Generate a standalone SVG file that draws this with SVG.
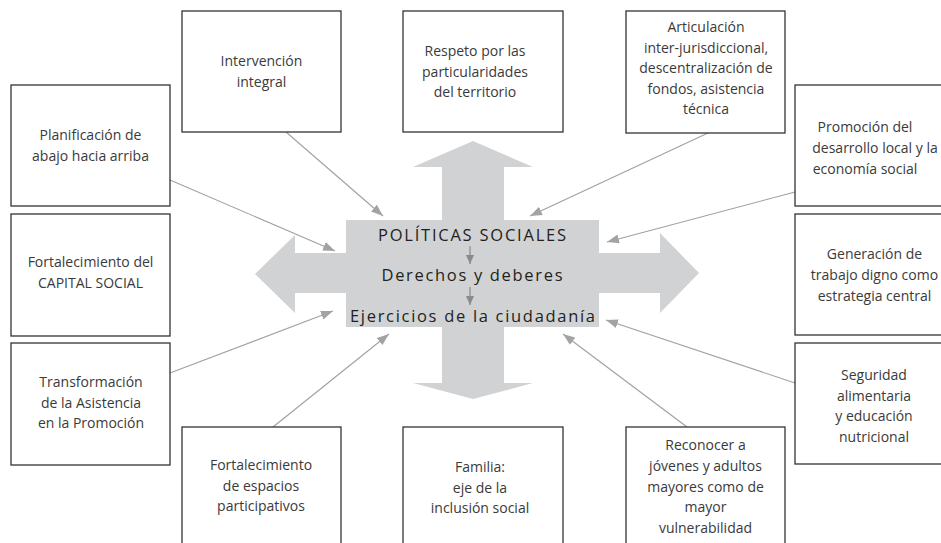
<svg xmlns="http://www.w3.org/2000/svg" width="941" height="543" viewBox="0 0 941 543">
<style>
.box rect{fill:#fff;stroke:#333;stroke-width:1.3}
.box text{font-family:"Open Sans","Liberation Sans",sans-serif;font-size:14px;fill:#3a3a3a;text-anchor:middle}
.cross{fill:#d1d2d4}
.ctext{font-family:"Open Sans","Liberation Sans",sans-serif;font-size:16.5px;font-weight:500;fill:#231f20;text-anchor:middle}
.conn line{stroke:#a0a0a0;stroke-width:1.1;fill:none}
.inner line{stroke:#8a8a8a;stroke-width:1.2}
</style>
<defs>
<marker id="ah" markerUnits="userSpaceOnUse" markerWidth="13" markerHeight="9" refX="12" refY="4.5" orient="auto">
<path d="M0,0 L12,4.5 L0,9 z" fill="#a3a3a3"/>
</marker>
<marker id="ah2" markerUnits="userSpaceOnUse" markerWidth="9" markerHeight="8" refX="9" refY="4" orient="auto">
<path d="M0,0 L9,4 L0,8 z" fill="#8a8a8a"/>
</marker>
</defs>
<rect width="941" height="543" fill="#fff"/>

<g id="center">
<polygon class="cross" points="473,141 533,167 504,167 504,220 599,220 599,253 660,253 660,233 699,273 660,313 660,293 599,293 599,327 504,327 504,383 533,383 473,399 413,383 442,383 442,327 346,327 346,293 295,293 295,313 255,274 295,235 295,253 346,253 346,220 442,220 442,167 413,167"/>
<text class="ctext" x="472" y="241" textLength="188" lengthAdjust="spacing">POLÍTICAS SOCIALES</text>
<text class="ctext" x="472" y="281" textLength="181" lengthAdjust="spacing">Derechos y deberes</text>
<text class="ctext" x="472.5" y="322" textLength="245" lengthAdjust="spacing">Ejercicios de la ciudadanía</text>
<g class="inner">
<line x1="470" y1="246" x2="470" y2="264" marker-end="url(#ah2)"/>
<line x1="470" y1="287" x2="470" y2="305" marker-end="url(#ah2)"/>
</g>
</g>

<g id="connectors" class="conn">
<line x1="286" y1="132" x2="383" y2="216" marker-end="url(#ah)"/>
<line x1="170" y1="180" x2="335" y2="251" marker-end="url(#ah)"/>
<line x1="708" y1="133" x2="530" y2="216" marker-end="url(#ah)"/>
<line x1="795" y1="192" x2="607" y2="242" marker-end="url(#ah)"/>
<line x1="170" y1="373" x2="333" y2="311" marker-end="url(#ah)"/>
<line x1="273" y1="427" x2="389" y2="334" marker-end="url(#ah)"/>
<line x1="795" y1="383" x2="606" y2="320" marker-end="url(#ah)"/>
<line x1="687" y1="427" x2="563" y2="334" marker-end="url(#ah)"/>
</g>

<g id="n-intervencion" class="box">
<rect x="182" y="11" width="159" height="121"/>
<text x="261.5" y="66">Intervención</text>
<text x="261.5" y="87">integral</text>
</g>
<g id="n-respeto" class="box">
<rect x="403" y="11" width="160" height="121"/>
<text x="475" y="56">Respeto por las</text>
<text x="475" y="76.5">particularidades</text>
<text x="475" y="97">del territorio</text>
</g>
<g id="n-articulacion" class="box">
<rect x="626" y="11" width="159" height="122"/>
<text x="706" y="32">Articulación</text>
<text x="706" y="52.5">inter-jurisdiccional,</text>
<text x="706" y="73">descentralización de</text>
<text x="706" y="93.5">fondos, asistencia</text>
<text x="706" y="114">técnica</text>
</g>
<g id="n-planificacion" class="box">
<rect x="11" y="85" width="159" height="121"/>
<text x="90.5" y="140">Planificación de</text>
<text x="90.5" y="161">abajo hacia arriba</text>
</g>
<g id="n-promocion" class="box">
<rect x="795" y="85" width="159" height="121"/>
<text x="865" y="132">Promoción del</text>
<text x="875" y="153">desarrollo local y la</text>
<text x="865" y="174">economía social</text>
</g>
<g id="n-capital" class="box">
<rect x="11" y="214" width="159" height="122"/>
<text x="90.5" y="267">Fortalecimiento del</text>
<text x="90.5" y="288">CAPITAL SOCIAL</text>
</g>
<g id="n-generacion" class="box">
<rect x="795" y="214" width="159" height="121"/>
<text x="874.5" y="259">Generación de</text>
<text x="874.5" y="280">trabajo digno como</text>
<text x="874.5" y="301">estrategia central</text>
</g>
<g id="n-transformacion" class="box">
<rect x="11" y="343" width="159" height="122"/>
<text x="91" y="387">Transformación</text>
<text x="91" y="407.5">de la Asistencia</text>
<text x="91" y="428">en la Promoción</text>
</g>
<g id="n-seguridad" class="box">
<rect x="795" y="343" width="159" height="121"/>
<text x="874" y="380">Seguridad</text>
<text x="874" y="400.5">alimentaria</text>
<text x="874" y="421">y educación</text>
<text x="874" y="441.5">nutricional</text>
</g>
<g id="n-espacios" class="box">
<rect x="182" y="427" width="159" height="130"/>
<text x="261" y="470">Fortalecimiento</text>
<text x="261" y="490.5">de espacios</text>
<text x="261" y="511">participativos</text>
</g>
<g id="n-familia" class="box">
<rect x="403" y="427" width="160" height="130"/>
<text x="480" y="472">Familia:</text>
<text x="480" y="492.5">eje de la</text>
<text x="480" y="513">inclusión social</text>
</g>
<g id="n-reconocer" class="box">
<rect x="626" y="427" width="159" height="130"/>
<text x="705.5" y="450">Reconocer a</text>
<text x="705.5" y="471">jóvenes y adultos</text>
<text x="705.5" y="491.5">mayores como de</text>
<text x="705.5" y="512">mayor</text>
<text x="705.5" y="532.5">vulnerabilidad</text>
</g>
</svg>
